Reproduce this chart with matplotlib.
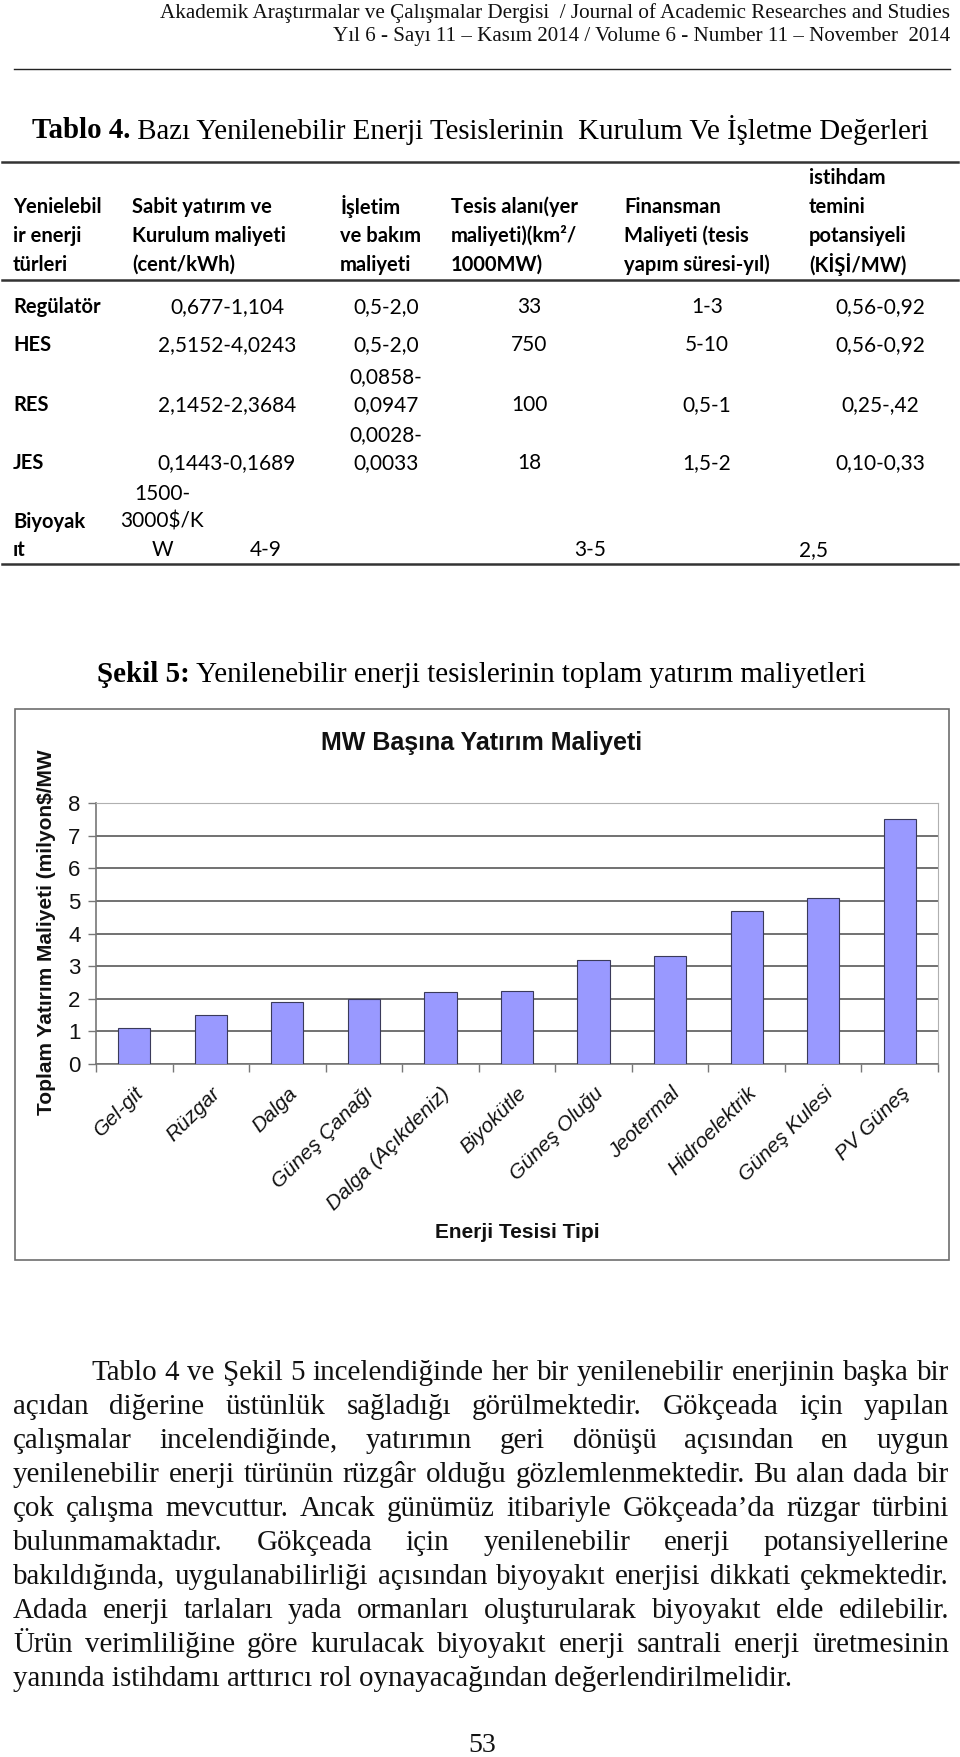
import matplotlib
matplotlib.use("Agg")
import matplotlib.pyplot as plt
import numpy as np
from matplotlib import font_manager

# ---------------- data ----------------
journal_line1 = "Akademik Araştırmalar ve Çalışmalar Dergisi  / Journal of Academic Researches and Studies"
journal_line2 = "Yıl 6 - Sayı 11 – Kasım 2014 / Volume 6 - Number 11 – November  2014"
table_title_bold = "Tablo 4."
table_title_rest = " Bazı Yenilenebilir Enerji Tesislerinin  Kurulum Ve İşletme Değerleri"

header_cols = [
    ["Yenielebil", "ir enerji", "türleri"],
    ["Sabit yatırım ve", "Kurulum maliyeti", "(cent/kWh)"],
    ["İşletim", "ve bakım", "maliyeti"],
    ["Tesis alanı(yer", "maliyeti)(km²/", "1000MW)"],
    ["Finansman", "Maliyeti (tesis", "yapım süresi-yıl)"],
    ["istihdam", "temini", "potansiyeli", "(KİŞİ/MW)"],
]
row_names = ["Regülatör", "HES", "RES", "JES"]
sabit_yatirim = ["0,677-1,104", "2,5152-4,0243", "2,1452-2,3684", "0,1443-0,1689"]
isletim_bakim = [["0,5-2,0"], ["0,5-2,0"], ["0,0858-", "0,0947"], ["0,0028-", "0,0033"]]
tesis_alani = ["33", "750", "100", "18"]
finansman = ["1-3", "5-10", "0,5-1", "1,5-2"]
istihdam = ["0,56-0,92", "0,56-0,92", "0,25-,42", "0,10-0,33"]
biyo_name = ["Biyoyak", "ıt"]
biyo_sabit = ["1500-", "3000$/K", "W"]
biyo_other = ["4-9", "3-5", "2,5"]

figure_caption_bold = "Şekil 5:"
figure_caption_rest = " Yenilenebilir enerji tesislerinin toplam yatırım maliyetleri"
chart_title = "MW Başına Yatırım Maliyeti"
y_label = "Toplam Yatırım Maliyeti (milyon$/MW"
x_label = "Enerji Tesisi Tipi"
categories = ["Gel-git", "Rüzgar", "Dalga", "Güneş Çanağı", "Dalga (Açıkdeniz)",
              "Biyokütle", "Güneş Oluğu", "Jeotermal", "Hidroelektrik",
              "Güneş Kulesi", "PV Güneş"]
costs = [1.1, 1.5, 1.9, 2.0, 2.2, 2.25, 3.2, 3.3, 4.7, 5.1, 7.5]
y_ticks = [0, 1, 2, 3, 4, 5, 6, 7, 8]

paragraph_lines = [
    "Tablo 4 ve Şekil 5 incelendiğinde her bir yenilenebilir enerjinin başka bir",
    "açıdan diğerine üstünlük sağladığı görülmektedir. Gökçeada için yapılan",
    "çalışmalar incelendiğinde, yatırımın geri dönüşü açısından en uygun",
    "yenilenebilir enerji türünün rüzgâr olduğu gözlemlenmektedir. Bu alan dada bir",
    "çok çalışma mevcuttur. Ancak günümüz itibariyle Gökçeada’da rüzgar türbini",
    "bulunmamaktadır. Gökçeada için yenilenebilir enerji potansiyellerine",
    "bakıldığında, uygulanabilirliği açısından biyoyakıt enerjisi dikkati çekmektedir.",
    "Adada enerji tarlaları yada ormanları oluşturularak biyoyakıt elde edilebilir.",
    "Ürün verimliliğine göre kurulacak biyoyakıt enerji santrali enerji üretmesinin",
    "yanında istihdamı arttırıcı rol oynayacağından değerlendirilmelidir.",
]
page_number = "53"

# ---------------- fonts ----------------
names = {f.name for f in font_manager.fontManager.ttflist}
SERIF = ["Liberation Serif", "DejaVu Serif"]
SANS = ["Liberation Sans", "DejaVu Sans"]
NARROW = ["Liberation Sans Narrow" if "Liberation Sans Narrow" in names else "Liberation Sans", "DejaVu Sans"]
TABLE = ["Lato" if "Lato" in names else "Open Sans", "DejaVu Sans"]

# ---------------- figure ----------------
W, H = 960, 1757
fig = plt.figure(figsize=(W / 100, H / 100), dpi=100)
fig.patch.set_facecolor("white")
bg = fig.add_axes([0, 0, 1, 1])
bg.set_xlim(0, W)
bg.set_ylim(H, 0)
bg.axis("off")
renderer = fig.canvas.get_renderer()


def width_of(t):
    return t.get_window_extent(renderer).width


def fit_text(x, y, s, target_w, size0=14, ha="left", **kw):
    t = bg.text(x, y, s, fontsize=size0, ha=ha, va="center", **kw)
    t.set_fontsize(size0 * target_w / width_of(t))
    return t


def mixed_line(x0, x1, y, bold, rest, family, size0=16):
    tb = bg.text(0, y, bold, fontsize=size0, fontweight="bold", family=family, va="center")
    tr = bg.text(0, y, rest, fontsize=size0, family=family, va="center")
    total = width_of(tb) + width_of(tr)
    s = size0 * (x1 - x0) / total
    tb.set_fontsize(s)
    tr.set_fontsize(s)
    tb.set_x(x0)
    tr.set_x(x0 + width_of(tb))


# header
fit_text(950, 13, journal_line1, 792, ha="right", family=SERIF, color="#111111")
fit_text(950, 37, journal_line2, 622, ha="right", family=SERIF, color="#111111")
bg.plot([14, 950], [69, 69], color="#222222", lw=1.0)

# table title
mixed_line(32, 931, 130, table_title_bold, table_title_rest, SERIF)

# table rules
bg.plot([2, 958], [162, 162], color="#333333", lw=1.8)
bg.plot([2, 958], [280, 280], color="#333333", lw=1.8)
bg.plot([2, 958], [564, 564], color="#333333", lw=1.8)

TFS = 14.5
VFS = 15
header_x = [13, 132, 340, 451, 624, 809]
header_y_last = 265
line_h = 29
for x, lines in zip(header_x, header_cols):
    n = len(lines)
    for i, s in enumerate(lines):
        yy = header_y_last - (n - 1 - i) * line_h
        bg.text(x, yy, s, fontsize=TFS, fontweight="bold", family=TABLE, va="center", ha="left")

row_y = [307, 345, 405, 463]
col_cx = [227, 386, 529, 707, 880]
vline_h = 28
for k, y in enumerate(row_y):
    bg.text(13, y, row_names[k], fontsize=TFS, fontweight="bold", family=TABLE, va="center")
    cells = [[sabit_yatirim[k]], isletim_bakim[k], [tesis_alani[k]], [finansman[k]], [istihdam[k]]]
    for cx, cell in zip(col_cx, cells):
        n = len(cell)
        for i, s in enumerate(cell):
            bg.text(cx, y - (n - 1 - i) * vline_h, s, fontsize=VFS, family=TABLE,
                    va="center", ha="center")

# Biyoyakıt row (misaligned in original)
by = 550
for i, s in enumerate(biyo_name):
    bg.text(13, by - (len(biyo_name) - 1 - i) * vline_h, s, fontsize=TFS,
            fontweight="bold", family=TABLE, va="center")
for i, s in enumerate(biyo_sabit):
    bg.text(162, by - (len(biyo_sabit) - 1 - i) * vline_h, s, fontsize=VFS,
            family=TABLE, va="center", ha="center")
for cx, s in zip([266, 590, 814], biyo_other):
    bg.text(cx, by, s, fontsize=VFS, family=TABLE, va="center", ha="center")

# figure caption
mixed_line(97, 865, 675, figure_caption_bold, figure_caption_rest, SERIF)

# chart frame
bg.add_patch(plt.Rectangle((15, 709), 934, 551, fill=False, edgecolor="#6e6e6e", lw=1.2))
bg.text(482, 743, chart_title, fontsize=18, fontweight="bold", family=SANS,
        ha="center", va="center", color="#111111")
bg.text(47, 749, y_label, fontsize=15, fontweight="bold", family=NARROW, rotation=90,
        ha="center", va="top", color="#111111")
bg.text(517, 1233, x_label, fontsize=15, fontweight="bold", family=SANS,
        ha="center", va="center", color="#111111")

# chart axes (pixel box: x 96..938, y 803..1064)
L, R, T, B = 96, 938, 803, 1064
ax = fig.add_axes([L / W, 1 - B / H, (R - L) / W, (B - T) / H])
ax.set_facecolor("white")
x = np.arange(len(categories))
ax.bar(x, costs, width=0.42, color="#9999ff", edgecolor="#3a3a5a", linewidth=0.8, zorder=3)
ax.set_xlim(-0.5, len(categories) - 0.5)
ax.set_ylim(0, 8)
ax.set_yticks(y_ticks)
ax.set_yticklabels([str(v) for v in y_ticks], fontsize=16, family=SANS, color="#111111")
ax.yaxis.grid(True, color="#4a4a4a", lw=1.1, zorder=0)
ax.set_axisbelow(True)
ax.set_xticks(x)
ax.set_xticklabels(categories, rotation=45, ha="right", va="top", rotation_mode="anchor",
                   fontsize=15, family=SANS, style="italic", color="#111111")
ax.set_xticks(np.arange(len(categories) + 1) - 0.5, minor=True)
ax.tick_params(axis="x", which="major", length=0, pad=14)
ax.tick_params(axis="x", which="minor", length=6, color="#777777", width=1)
ax.tick_params(axis="y", length=6, color="#777777", width=1, pad=5)
for side in ["top", "right"]:
    ax.spines[side].set_color("#b0b0b0")
for side in ["left", "bottom"]:
    ax.spines[side].set_color("#777777")
    ax.spines[side].set_linewidth(1.2)

# paragraph (justified)
P_LEFT, P_RIGHT, P_INDENT = 13, 949, 91
P_TOP, P_STEP = 1373, 34
probe = bg.text(0, 0, paragraph_lines[-1], fontsize=18, family=SERIF)
PFS = 18 * 780 / width_of(probe)
probe.remove()
for i, line in enumerate(paragraph_lines):
    y = P_TOP + i * P_STEP
    x0 = P_INDENT if i == 0 else P_LEFT
    words = line.split(" ")
    if i == len(paragraph_lines) - 1:
        bg.text(x0, y, line, fontsize=PFS, family=SERIF, va="center", color="#111111")
        continue
    ts = [bg.text(0, y, w, fontsize=PFS, family=SERIF, va="center", color="#111111") for w in words]
    widths = [width_of(t) for t in ts]
    gap = (P_RIGHT - x0 - sum(widths)) / (len(words) - 1)
    cur = x0
    for t, w in zip(ts, widths):
        t.set_x(cur)
        cur += w + gap

bg.text(482, 1745, page_number, fontsize=20, family=SERIF, ha="center", va="center", color="#111111")

fig.savefig("out.png", dpi=100, facecolor="white")
